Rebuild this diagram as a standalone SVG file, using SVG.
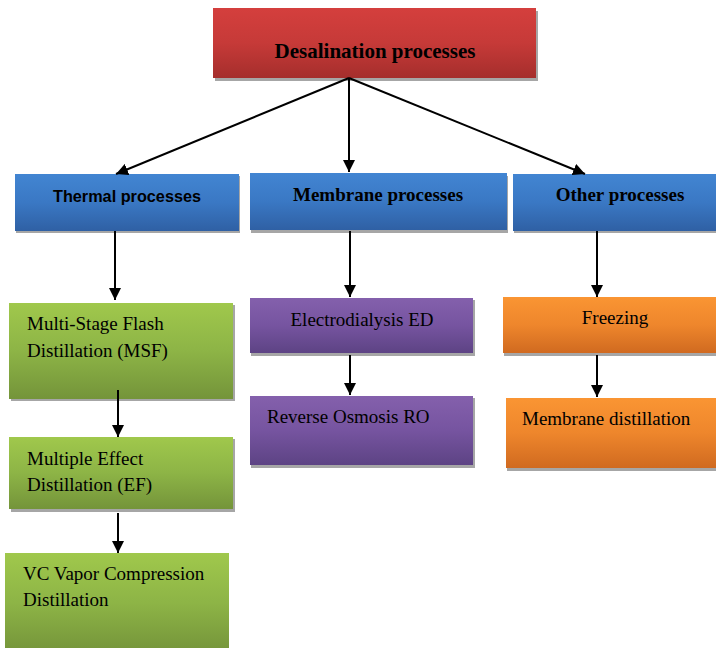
<svg xmlns="http://www.w3.org/2000/svg" width="716" height="648" viewBox="0 0 716 648">
<defs>
<linearGradient id="gRed" x1="0" y1="0" x2="0" y2="1"><stop offset="0" stop-color="#D43F3D"/><stop offset="0.5" stop-color="#C63A38"/><stop offset="1" stop-color="#A52E2C"/></linearGradient>
<linearGradient id="gBlue" x1="0" y1="0" x2="0" y2="1"><stop offset="0" stop-color="#4285D2"/><stop offset="0.5" stop-color="#3A78C4"/><stop offset="1" stop-color="#2F60A4"/></linearGradient>
<linearGradient id="gGreen" x1="0" y1="0" x2="0" y2="1"><stop offset="0" stop-color="#A0C84C"/><stop offset="0.5" stop-color="#8DB446"/><stop offset="1" stop-color="#74943A"/></linearGradient>
<linearGradient id="gPurple" x1="0" y1="0" x2="0" y2="1"><stop offset="0" stop-color="#8460AC"/><stop offset="0.5" stop-color="#7654A0"/><stop offset="1" stop-color="#5D4384"/></linearGradient>
<linearGradient id="gOrange" x1="0" y1="0" x2="0" y2="1"><stop offset="0" stop-color="#FA9533"/><stop offset="0.5" stop-color="#EE862C"/><stop offset="1" stop-color="#D06A20"/></linearGradient>
<marker id="arr" viewBox="0 0 12 12" refX="12" refY="6" markerWidth="12" markerHeight="12" markerUnits="userSpaceOnUse" orient="auto"><path d="M0,0 L12,6 L0,12 z" fill="#000"/></marker>
</defs>
<style>
.sh{fill:#A6A6A6;}
.conn line{stroke:#000;stroke-width:2;marker-end:url(#arr);}
</style>
<rect width="716" height="648" fill="#fff"/>

<g font-family="Liberation Serif, Times New Roman, serif" fill="#000">
<g id="n-desal">
<rect class="sh" x="215" y="11" width="323" height="70"/>
<rect x="213" y="8" width="323" height="70" fill="url(#gRed)"/>
<text x="375" y="58" font-size="21" font-weight="bold" text-anchor="middle">Desalination processes</text>
</g>

<g id="n-thermal">
<rect class="sh" x="16" y="176" width="224" height="57"/>
<rect x="15" y="174" width="224" height="57" fill="url(#gBlue)"/>
<text x="127" y="202" font-family="Liberation Sans, Arial, sans-serif" font-weight="bold" font-size="17" text-anchor="middle" textLength="148" lengthAdjust="spacingAndGlyphs">Thermal processes</text>
</g>
<g id="n-membrane">
<rect class="sh" x="251" y="176" width="257" height="57"/>
<rect x="250" y="173" width="257" height="57" fill="url(#gBlue)"/>
<text x="378" y="201" font-size="19" font-weight="bold" text-anchor="middle">Membrane processes</text>
</g>
<g id="n-other">
<rect class="sh" x="514" y="176" width="202" height="57"/>
<rect x="513" y="174" width="203" height="57" fill="url(#gBlue)"/>
<text x="620" y="201" font-size="19" font-weight="bold" text-anchor="middle">Other processes</text>
</g>

<g id="n-msf">
<rect class="sh" x="11" y="305" width="224" height="96"/>
<rect x="9" y="303" width="224" height="96" fill="url(#gGreen)"/>
<text x="27" y="330" font-size="19">Multi-Stage Flash</text>
<text x="27" y="357" font-size="19">Distillation (MSF)</text>
</g>
<g id="n-ef">
<rect class="sh" x="11" y="439" width="224" height="73"/>
<rect x="9" y="437" width="224" height="72" fill="url(#gGreen)"/>
<text x="27" y="465" font-size="19">Multiple Effect</text>
<text x="27" y="491" font-size="19">Distillation (EF)</text>
</g>
<g id="n-vc">
<rect x="5" y="553" width="224" height="100" fill="url(#gGreen)"/>
<text x="23" y="580" font-size="19">VC Vapor Compression</text>
<text x="23" y="606" font-size="19">Distillation</text>
</g>

<g id="n-ed">
<rect class="sh" x="251" y="300" width="224" height="56"/>
<rect x="250" y="298" width="223" height="55" fill="url(#gPurple)"/>
<text x="362" y="326" font-size="19" text-anchor="middle">Electrodialysis ED</text>
</g>
<g id="n-ro">
<rect class="sh" x="251" y="398" width="224" height="70"/>
<rect x="250" y="396" width="223" height="69" fill="url(#gPurple)"/>
<text x="267" y="423" font-size="19">Reverse Osmosis RO</text>
</g>

<g id="n-freezing">
<rect class="sh" x="504" y="299" width="212" height="57"/>
<rect x="503" y="297" width="213" height="56" fill="url(#gOrange)"/>
<text x="615" y="324" font-size="19" text-anchor="middle">Freezing</text>
</g>
<g id="n-md">
<rect class="sh" x="507" y="400" width="209" height="71"/>
<rect x="506" y="398" width="210" height="70" fill="url(#gOrange)"/>
<text x="522" y="425" font-size="19">Membrane distillation</text>
</g>
</g>

<g id="connectors" class="conn">
<line x1="349" y1="78" x2="116" y2="174"/>
<line x1="349" y1="78" x2="349" y2="172"/>
<line x1="349" y1="78" x2="585" y2="174"/>
<line x1="115" y1="231" x2="115" y2="300"/>
<line x1="350" y1="231" x2="350" y2="297"/>
<line x1="597" y1="231" x2="597" y2="297"/>
<line x1="118" y1="390" x2="118" y2="437"/>
<line x1="118" y1="513" x2="118" y2="553"/>
<line x1="350" y1="355" x2="350" y2="395"/>
<line x1="597" y1="355" x2="597" y2="397"/>
</g>
</svg>
